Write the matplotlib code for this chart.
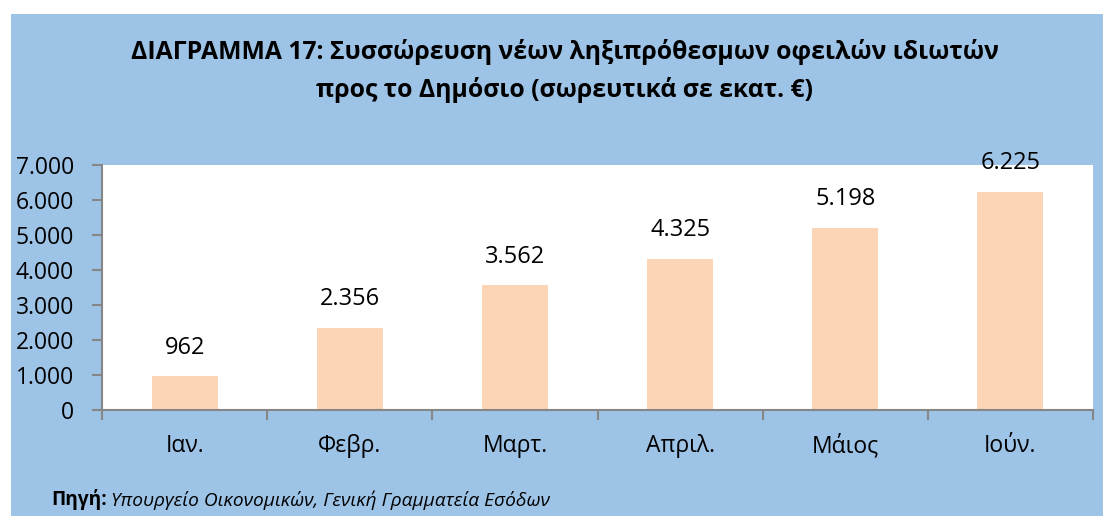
import matplotlib
matplotlib.use("Agg")
import matplotlib.pyplot as plt
from matplotlib.patches import Rectangle
from matplotlib.ticker import FuncFormatter, FixedLocator, NullFormatter

plt.rcParams['font.family'] = ['Open Sans', 'Noto Sans', 'DejaVu Sans']

categories = ["Ιαν.", "Φεβρ.", "Μαρτ.", "Απριλ.", "Μάιος", "Ιούν."]
values = [962, 2356, 3562, 4325, 5198, 6225]
yticks = [0, 1000, 2000, 3000, 4000, 5000, 6000, 7000]
title_lines = ["ΔΙΑΓΡΑΜΜΑ 17: Συσσώρευση νέων ληξιπρόθεσμων οφειλών ιδιωτών",
               "προς το Δημόσιο (σωρευτικά σε εκατ. €)"]

W, H = 1105, 516
fig = plt.figure(figsize=(W / 100, H / 100), dpi=100)
fig.patch.set_facecolor("white")
blue = "#9DC3E6"
fig.patches.append(Rectangle((11 / W, 0), (1103 - 11) / W, (H - 14) / H,
                             transform=fig.transFigure, facecolor=blue,
                             edgecolor="none", zorder=-10))

ax = fig.add_axes([102 / W, 1 - 410 / H, (1093 - 102) / W, (410 - 165) / H])
ax.set_zorder(5)
ax.set_facecolor("white")

def fmt(v):
    return f"{int(round(v)):,}".replace(",", ".")

x = list(range(len(categories)))
bars = ax.bar(x, values, width=0.4, color="#FBD5B5", edgecolor="none")
for xi, v in zip(x, values):
    ax.annotate(fmt(v), (xi, v), xytext=(0, 12), textcoords="offset points",
                ha="center", va="bottom", fontsize=17, color="black")

ax.set_xlim(-0.5, len(categories) - 0.5)
ax.set_ylim(0, 7000)
ax.set_yticks(yticks)
ax.yaxis.set_major_formatter(FuncFormatter(lambda v, p: fmt(v)))
ax.xaxis.set_major_locator(FixedLocator([i - 0.5 for i in range(len(categories) + 1)]))
ax.xaxis.set_major_formatter(NullFormatter())
ax.xaxis.set_minor_locator(FixedLocator(x))
ax.set_xticklabels(categories, minor=True)
ax.tick_params(axis="x", which="minor", length=0, pad=17, labelsize=16.5)
ax.tick_params(axis="x", which="major", length=7, color="#868686", width=1.5, direction="out")
ax.tick_params(axis="y", length=7, color="#868686", width=1.5, direction="out", pad=13, labelsize=16.5)

for s in ["top", "right"]:
    ax.spines[s].set_visible(False)
for s in ["left", "bottom"]:
    ax.spines[s].set_color("#868686")
    ax.spines[s].set_linewidth(1.5)

fig.text(565 / W, 1 - 52 / H, title_lines[0], ha="center", va="center",
         fontsize=17.8, fontweight="bold")
fig.text(565 / W, 1 - 90 / H, title_lines[1], ha="center", va="center",
         fontsize=17.8, fontweight="bold")

t1 = fig.text(51 / W, 1 - 500 / H, "Πηγή:", ha="left", va="center",
              fontsize=13.8, fontweight="bold")
fig.canvas.draw()
bb = t1.get_window_extent()
fig.text((bb.x1 + 4) / W, 1 - 500 / H, "Υπουργείο Οικονομικών, Γενική Γραμματεία Εσόδων",
         ha="left", va="center", fontsize=13.8, fontstyle="italic")

fig.savefig("out.png", dpi=100, facecolor=fig.get_facecolor())
